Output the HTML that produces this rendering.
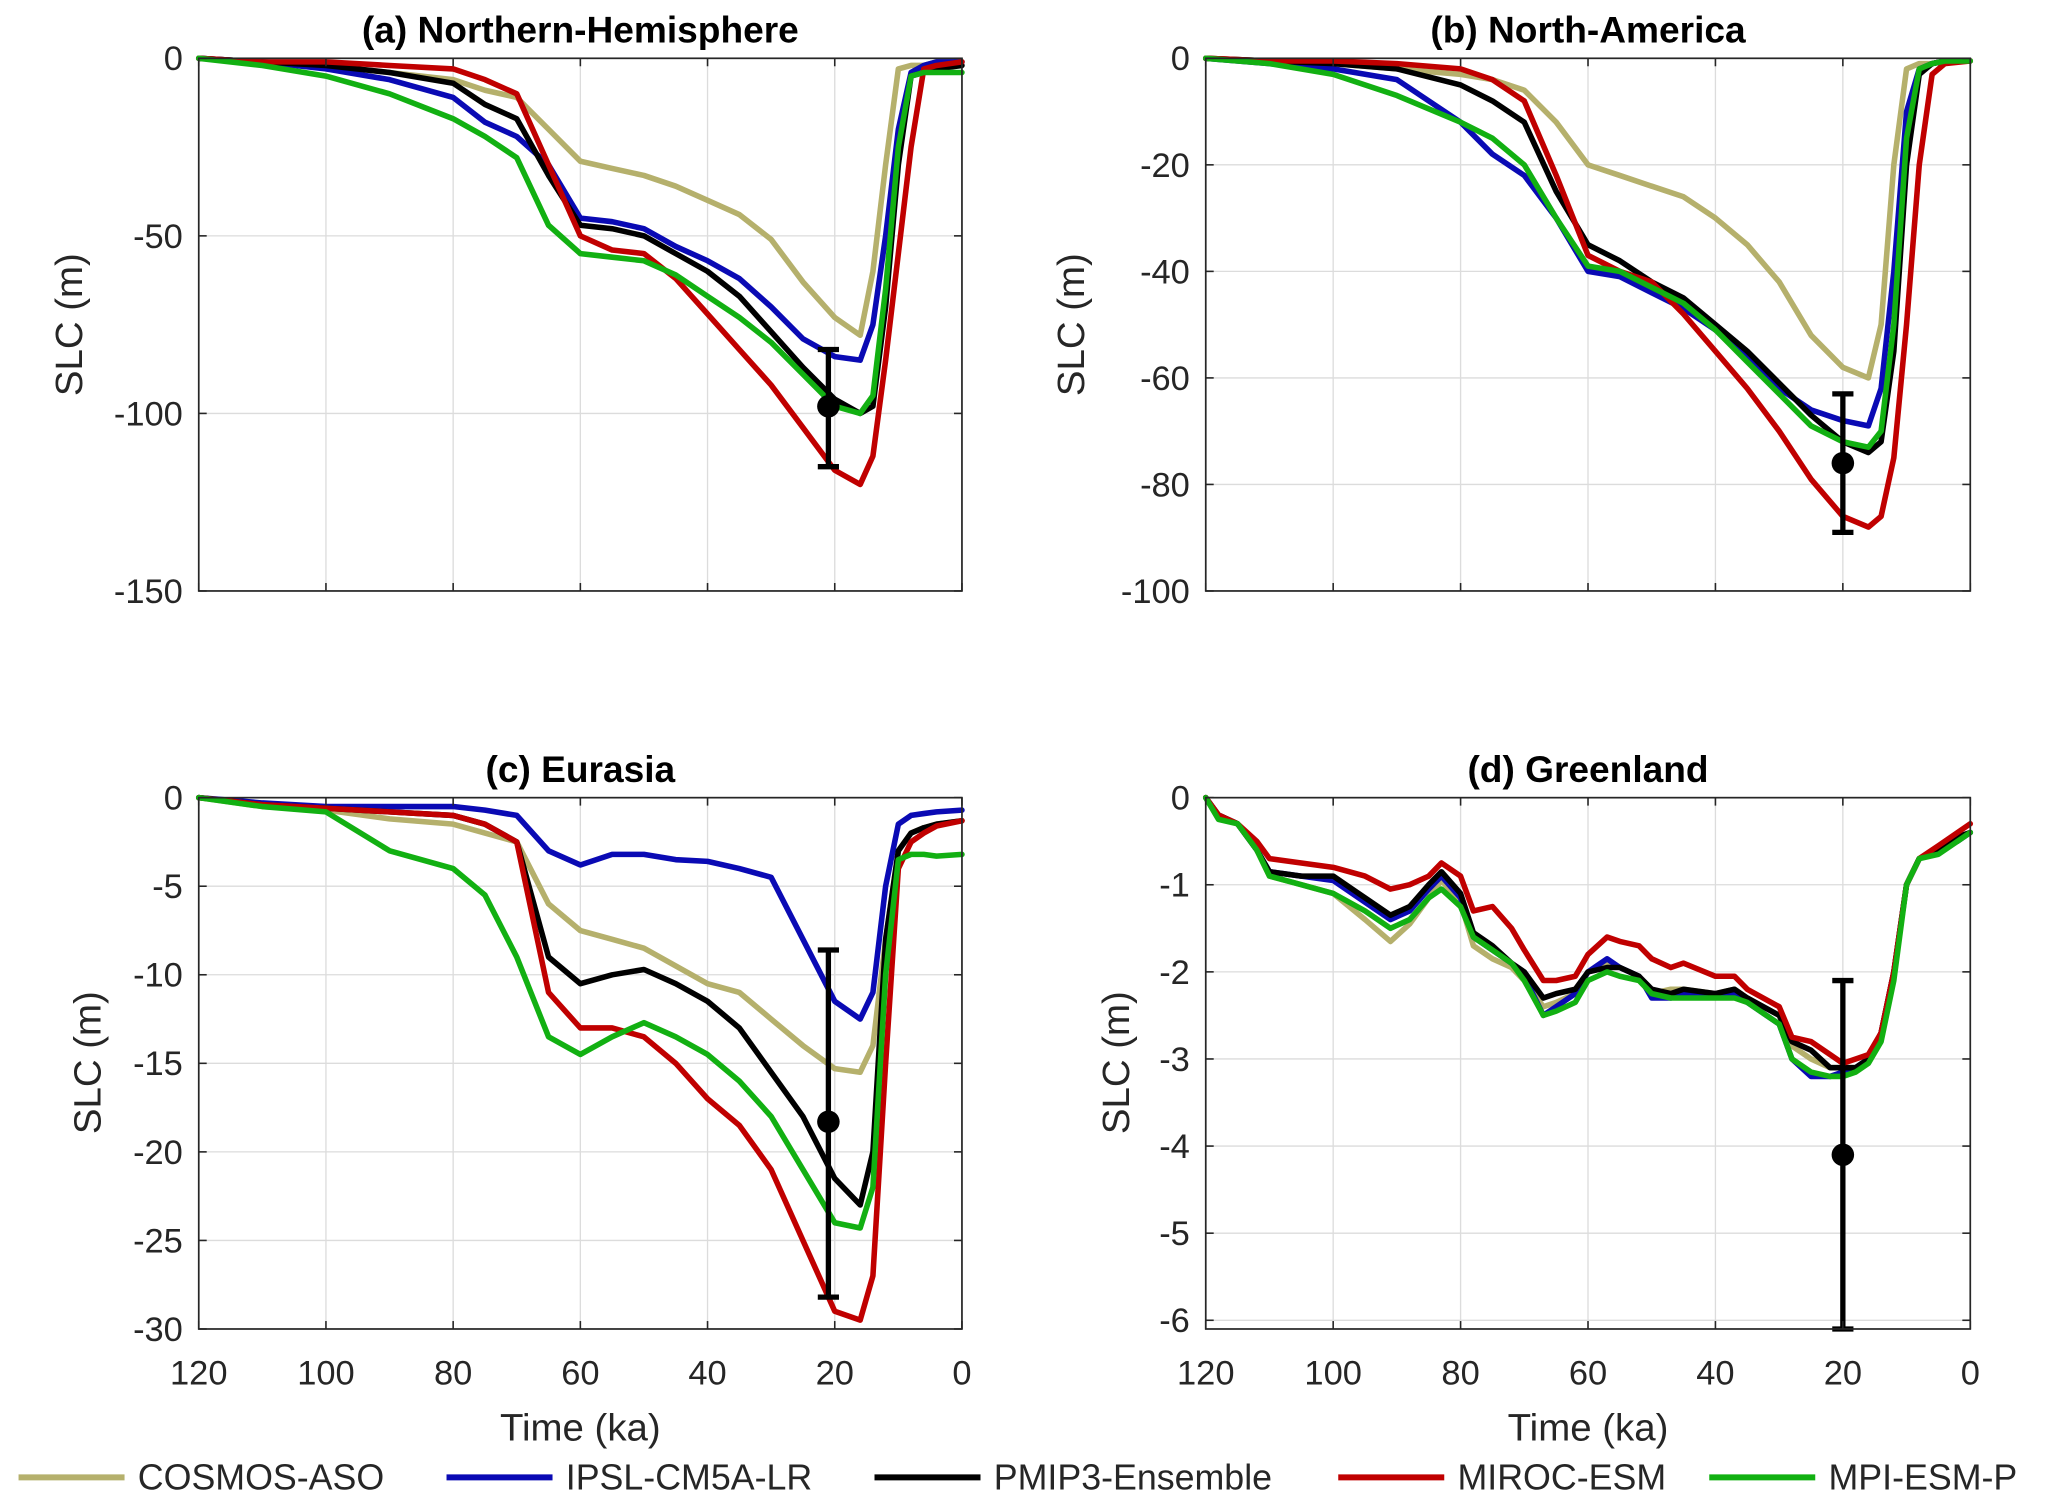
<!DOCTYPE html>
<html><head><meta charset="utf-8"><style>
html,body{margin:0;padding:0;background:#fff;}
svg{display:block;font-family:"Liberation Sans",Arial,sans-serif;}
</style></head><body>
<svg id="fig" width="2067" height="1499" viewBox="0 0 1560 1131.3" xmlns="http://www.w3.org/2000/svg"></svg>
<script>
const timesA = [120,110,100,90,80,75,70,65,60,55,50,45,40,35,30,25,20,16,14,12,10,8,6,4,0];
const nhCosmos = [0,-1,-2,-4,-6,-9,-11,-20,-29,-31,-33,-36,-40,-44,-51,-63,-73,-78,-60,-30,-3,-2,-2,-1,-1];
const nhIpsl   = [0,-1,-3,-6,-11,-18,-22,-30,-45,-46,-48,-53,-57,-62,-70,-79,-84,-85,-75,-50,-20,-4,-2,-1,-1];
const nhPmip   = [0,-1,-2,-4,-7,-13,-17,-33,-47,-48,-50,-55,-60,-67,-77,-87,-96,-100,-98,-70,-30,-5,-4,-3,-2];
const nhMiroc  = [0,-1,-1,-2,-3,-6,-10,-30,-50,-54,-55,-62,-72,-82,-92,-104,-116,-120,-112,-85,-55,-25,-3,-2,-1];
const nhMpi    = [0,-2,-5,-10,-17,-22,-28,-47,-55,-56,-57,-61,-67,-73,-80,-89,-98,-100,-95,-65,-25,-5,-4,-4,-4];
const naCosmos = [0,-0.5,-1,-2,-3,-4,-6,-12,-20,-22,-24,-26,-30,-35,-42,-52,-58,-60,-50,-20,-2,-1,-1,-0.5,-0.5];
const naIpsl   = [0,-1,-2,-4,-12,-18,-22,-30,-40,-41,-44,-47,-51,-56,-62,-66,-68,-69,-62,-40,-10,-2,-1,-0.5,-0.5];
const naPmip   = [0,-0.5,-1,-2,-5,-8,-12,-25,-35,-38,-42,-45,-50,-55,-61,-67,-72,-74,-72,-55,-20,-3,-1,-0.5,-0.5];
const naMiroc  = [0,-0.5,-0.5,-1,-2,-4,-8,-22,-37,-40,-42,-48,-55,-62,-70,-79,-86,-88,-86,-75,-50,-20,-3,-1,-0.5];
const naMpi    = [0,-1,-3,-7,-12,-15,-20,-30,-39,-40,-43,-46,-51,-57,-63,-69,-72,-73,-70,-50,-15,-2,-1,-0.5,-0.5];
const euCosmos = [0,-0.5,-0.7,-1.2,-1.5,-2,-2.5,-6,-7.5,-8,-8.5,-9.5,-10.5,-11,-12.5,-14,-15.3,-15.5,-14,-8,-3,-2,-1.7,-1.5,-1.3];
const euIpsl   = [0,-0.3,-0.5,-0.5,-0.5,-0.7,-1,-3,-3.8,-3.2,-3.2,-3.5,-3.6,-4,-4.5,-8,-11.5,-12.5,-11,-5,-1.5,-1,-0.9,-0.8,-0.7];
const euPmip   = [0,-0.4,-0.6,-0.8,-1,-1.5,-2.5,-9,-10.5,-10,-9.7,-10.5,-11.5,-13,-15.5,-18,-21.5,-23,-20,-8,-3,-2,-1.7,-1.5,-1.3];
const euMiroc  = [0,-0.4,-0.6,-0.8,-1,-1.5,-2.5,-11,-13,-13,-13.5,-15,-17,-18.5,-21,-25,-29,-29.5,-27,-15,-4,-2.5,-2,-1.6,-1.3];
const euMpi    = [0,-0.5,-0.8,-3,-4,-5.5,-9,-13.5,-14.5,-13.5,-12.7,-13.5,-14.5,-16,-18,-21,-24,-24.3,-22,-10,-3.5,-3.2,-3.2,-3.3,-3.2];
const timesD = [120,118,115,112,110,105,100,95,91,88,85,83,80,78,75,72,70,67,65,62,60,57,55,52,50,47,45,40,37,35,30,28,25,22,20,18,16,14,12,10,8,5,2,0];
const grCosmos = [0,-0.2,-0.3,-0.6,-0.9,-1.0,-1.1,-1.4,-1.65,-1.45,-1.15,-0.95,-1.2,-1.7,-1.85,-1.95,-2.1,-2.4,-2.35,-2.25,-2.0,-1.9,-1.95,-2.05,-2.25,-2.2,-2.2,-2.25,-2.2,-2.3,-2.5,-2.85,-3.0,-3.1,-3.1,-3.1,-3.0,-2.7,-2.0,-1.0,-0.7,-0.6,-0.5,-0.4];
const grIpsl   = [0,-0.2,-0.3,-0.6,-0.85,-0.9,-0.95,-1.2,-1.4,-1.3,-1.05,-0.9,-1.15,-1.6,-1.75,-1.9,-2.05,-2.5,-2.4,-2.25,-2.0,-1.85,-1.95,-2.05,-2.3,-2.3,-2.25,-2.25,-2.25,-2.35,-2.6,-3.0,-3.2,-3.2,-3.15,-3.1,-3.0,-2.7,-2.0,-1.0,-0.7,-0.6,-0.5,-0.4];
const grPmip   = [0,-0.2,-0.3,-0.6,-0.85,-0.9,-0.9,-1.15,-1.35,-1.25,-1.0,-0.85,-1.1,-1.55,-1.7,-1.9,-2.0,-2.3,-2.25,-2.2,-2.0,-1.95,-1.95,-2.05,-2.2,-2.25,-2.2,-2.25,-2.2,-2.3,-2.5,-2.8,-2.9,-3.1,-3.1,-3.1,-3.0,-2.7,-2.0,-1.0,-0.7,-0.6,-0.45,-0.4];
const grMiroc  = [0,-0.2,-0.3,-0.5,-0.7,-0.75,-0.8,-0.9,-1.05,-1.0,-0.9,-0.75,-0.9,-1.3,-1.25,-1.5,-1.75,-2.1,-2.1,-2.05,-1.8,-1.6,-1.65,-1.7,-1.85,-1.95,-1.9,-2.05,-2.05,-2.2,-2.4,-2.75,-2.8,-2.95,-3.05,-3.0,-2.95,-2.7,-2.0,-1.0,-0.7,-0.55,-0.4,-0.3];
const grMpi    = [0,-0.25,-0.3,-0.6,-0.9,-1.0,-1.1,-1.3,-1.5,-1.4,-1.15,-1.05,-1.25,-1.6,-1.75,-1.9,-2.1,-2.5,-2.45,-2.35,-2.1,-2.0,-2.05,-2.1,-2.25,-2.3,-2.3,-2.3,-2.3,-2.35,-2.6,-3.0,-3.15,-3.2,-3.2,-3.15,-3.05,-2.8,-2.1,-1.0,-0.7,-0.65,-0.5,-0.4];
const obsTime = [21, 20, 21, 20];
const obsValue = [-98, -76, -18.3, -4.1];
const obsLow = [-115, -89, -28.2, -6.1];
const obsHigh = [-82, -63, -8.6, -2.1];
const xTicks = [120,100,80,60,40,20,0];
const seriesNames = ["COSMOS-ASO","IPSL-CM5A-LR","PMIP3-Ensemble","MIROC-ESM","MPI-ESM-P"];
const seriesColors = ["#b5b06c","#0a0ab4","#000000","#c00000","#12b012"];

const svg = document.getElementById('fig');
const NS = 'http://www.w3.org/2000/svg';
function mk(tag, attrs, parent){ const e=document.createElementNS(NS,tag); for(const k in attrs) e.setAttribute(k,attrs[k]); (parent||svg).appendChild(e); return e; }

const panels = [
 {title:"(a) Northern-Hemisphere", key:"nh", x0:150,x1:726,y0:44,y1:446, ymin:-150,ymax:0, yt:[0,-50,-100,-150], times:timesA, data:[nhCosmos,nhIpsl,nhPmip,nhMiroc,nhMpi], xl:false, yl:{x:62,y:245}},
 {title:"(b) North-America", key:"na", x0:910,x1:1487,y0:44,y1:446, ymin:-100,ymax:0, yt:[0,-20,-40,-60,-80,-100], times:timesA, data:[naCosmos,naIpsl,naPmip,naMiroc,naMpi], xl:false, yl:{x:818,y:245}},
 {title:"(c) Eurasia", key:"eu", x0:150,x1:726,y0:602,y1:1003, ymin:-30,ymax:0, yt:[0,-5,-10,-15,-20,-25,-30], times:timesA, data:[euCosmos,euIpsl,euPmip,euMiroc,euMpi], xl:true, yl:{x:76,y:802}},
 {title:"(d) Greenland", key:"gr", x0:910,x1:1487,y0:602,y1:1003, ymin:-6.1,ymax:0, yt:[0,-1,-2,-3,-4,-5,-6], times:timesD, data:[grCosmos,grIpsl,grPmip,grMiroc,grMpi], xl:true, yl:{x:852,y:802}}
];

panels.forEach((p,pi)=>{
  const g = mk('g',{});
  
  
  const sx = t => p.x0 + (120 - t)/120*(p.x1-p.x0);
  const sy = v => p.y0 + (p.ymax - v)/(p.ymax-p.ymin)*(p.y1-p.y0);
  xTicks.forEach(t=>{ if(t!==120 && t!==0){ const l=mk('line',{x1:sx(t),x2:sx(t),y1:p.y0,y2:p.y1,stroke:'#dcdcdc','stroke-width':1},g);   }});
  p.yt.forEach(v=>{ if(v!==p.ymax && v!==p.ymin){ const l=mk('line',{x1:p.x0,x2:p.x1,y1:sy(v),y2:sy(v),stroke:'#dcdcdc','stroke-width':1},g);   }});
  p.data.forEach((arr,si)=>{
    const n=Math.min(arr.length,p.times.length);
    let pts=[]; for(let i=0;i<n;i++) pts.push(sx(p.times[i]).toFixed(1)+','+sy(arr[i]).toFixed(1));
    const pl=mk('polyline',{points:pts.join(' '),fill:'none',stroke:seriesColors[si],'stroke-width':4.2,'stroke-linejoin':'round','stroke-linecap':'round'},g);
    
    
  });
  const ex=sx(obsTime[pi]);
  const eb=mk('g',{},g);
  
  
  mk('line',{x1:ex,x2:ex,y1:sy(obsHigh[pi]),y2:sy(obsLow[pi]),stroke:'#000','stroke-width':4},eb);
  mk('line',{x1:ex-8,x2:ex+8,y1:sy(obsHigh[pi]),y2:sy(obsHigh[pi]),stroke:'#000','stroke-width':4},eb);
  mk('line',{x1:ex-8,x2:ex+8,y1:sy(obsLow[pi]),y2:sy(obsLow[pi]),stroke:'#000','stroke-width':4},eb);
  mk('circle',{cx:ex,cy:sy(obsValue[pi]),r:8.5,fill:'#000'},eb);
  const fr=mk('rect',{x:p.x0,y:p.y0,width:p.x1-p.x0,height:p.y1-p.y0,fill:'none',stroke:'#262626','stroke-width':1.3},g);
  
  
  xTicks.forEach(t=>{
    mk('line',{x1:sx(t),x2:sx(t),y1:p.y1,y2:p.y1-6,stroke:'#262626','stroke-width':1.2},g);
    mk('line',{x1:sx(t),x2:sx(t),y1:p.y0,y2:p.y0+6,stroke:'#262626','stroke-width':1.2},g);
    if(p.xl){ const tx=mk('text',{x:sx(t),y:p.y1+42,'text-anchor':'middle','font-size':26,fill:'#262626'},g); tx.textContent=t;   }
  });
  p.yt.forEach(v=>{
    mk('line',{x1:p.x0,x2:p.x0+6,y1:sy(v),y2:sy(v),stroke:'#262626','stroke-width':1.2},g);
    mk('line',{x1:p.x1,x2:p.x1-6,y1:sy(v),y2:sy(v),stroke:'#262626','stroke-width':1.2},g);
    const tx=mk('text',{x:p.x0-12,y:sy(v)+9,'text-anchor':'end','font-size':26,fill:'#262626'},g); tx.textContent=v;  
  });
  const tt=mk('text',{x:(p.x0+p.x1)/2,y:p.y0-12,'text-anchor':'middle','font-size':28,'font-weight':'bold',fill:'#000'},g);
  tt.textContent=p.title;  
  const yl=mk('text',{x:p.yl.x,y:p.yl.y,'text-anchor':'middle','font-size':29,fill:'#262626',transform:`rotate(-90 ${p.yl.x} ${p.yl.y})`},g);
  yl.textContent='SLC (m)';  
  if(p.xl){ const xl=mk('text',{x:(p.x0+p.x1)/2,y:p.y1+84,'text-anchor':'middle','font-size':29,fill:'#262626'},g); xl.textContent='Time (ka)';   }
});

const legX = [14, 337, 660, 1010, 1290];
const lg = mk('g',{});


seriesNames.forEach((nm,i)=>{
  const e=mk('g',{},lg);
  
  
  mk('line',{x1:legX[i],x2:legX[i]+80,y1:1115,y2:1115,stroke:seriesColors[i],'stroke-width':4.5},e);
  const t=mk('text',{x:legX[i]+90,y:1124,'font-size':27,fill:'#262626'},e); t.textContent=nm;
});
</script>
</body></html>
